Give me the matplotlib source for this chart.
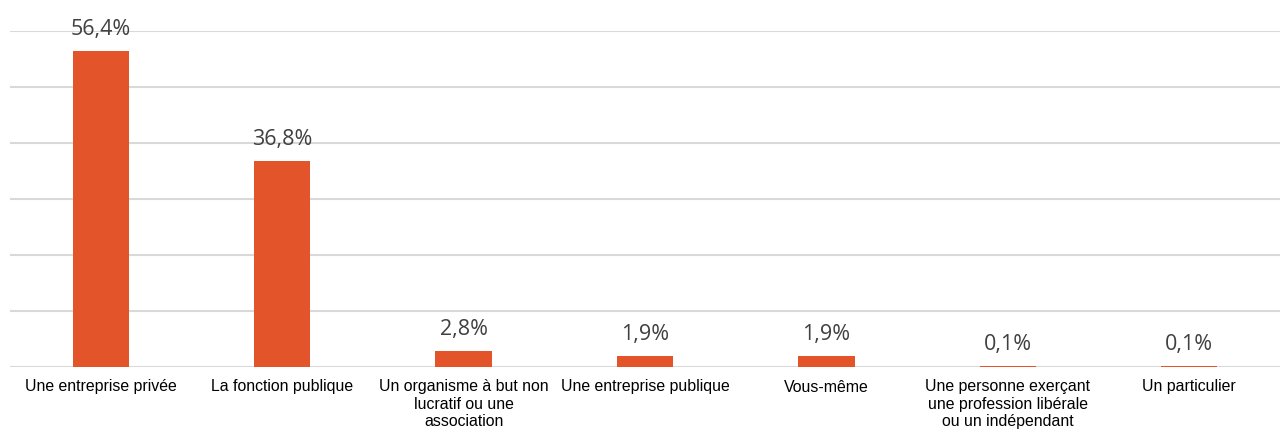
import matplotlib.pyplot as plt

categories = ["Une entreprise privée", "La fonction publique",
              "Un organisme à but non\nlucratif ou une\nassociation",
              "Une entreprise publique", "Vous-même",
              "Une personne exerçant\nune profession libérale\nou un indépendant",
              "Un particulier"]
values = [56.4, 36.8, 2.8, 1.9, 1.9, 0.1, 0.1]
value_labels = ["56,4%", "36,8%", "2,8%", "1,9%", "1,9%", "0,1%", "0,1%"]

fig = plt.figure(figsize=(12.8, 4.29), dpi=100)
ax = fig.add_axes([10 / 1280, 1 - 367 / 429, 1 - 10 / 1280, 336 / 429])

x = range(len(categories))
bars = ax.bar(x, values, width=0.31, color='#E4542A', zorder=3)

# grille horizontale
for g in range(0, 70, 10):
    ax.axhline(g, color='#d9d9d9', linewidth=1.5, zorder=1)

for rec, lab in zip(bars, value_labels):
    ax.annotate(lab, (rec.get_x() + rec.get_width() / 2, rec.get_height()),
                xytext=(0, 8), textcoords='offset points', ha='center', va='bottom',
                fontsize=15.5, color='#404040', family=['Open Sans', 'DejaVu Sans'])

ax.set_xlim(-0.5, len(categories) - 0.5)
ax.set_ylim(0, 60)
ax.set_yticks([])
ax.set_xticks(list(x))
ax.set_xticklabels(categories, fontsize=11.4, family=['Liberation Sans', 'DejaVu Sans'], color='#000000')
ax.tick_params(axis='x', length=0, pad=9)
for s in ax.spines.values():
    s.set_visible(False)

fig.savefig('out.png', dpi=100)
